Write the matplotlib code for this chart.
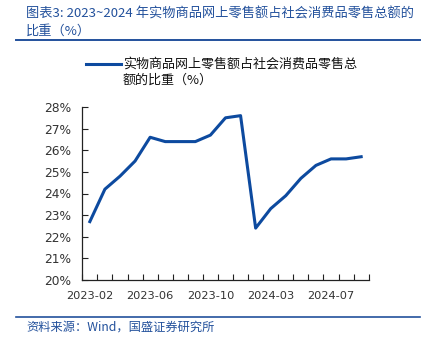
import matplotlib
matplotlib.use("Agg")
import matplotlib.pyplot as plt
from matplotlib.lines import Line2D
import numpy as np

plt.rcParams['font.family'] = ['DejaVu Sans', 'Noto Sans CJK SC']

months = ["2023-02", "2023-03", "2023-04", "2023-05", "2023-06", "2023-07",
          "2023-08", "2023-09", "2023-10", "2023-11", "2023-12",
          "2024-02", "2024-03", "2024-04", "2024-05", "2024-06", "2024-07",
          "2024-08", "2024-09"]
share = [22.7, 24.2, 24.8, 25.5, 26.6, 26.4, 26.4, 26.4, 26.7, 27.5, 27.6,
         22.4, 23.3, 23.9, 24.7, 25.3, 25.6, 25.6, 25.7]
label_months = ["2023-02", "2023-06", "2023-10", "2024-03", "2024-07"]
yticks = [20, 21, 22, 23, 24, 25, 26, 27, 28]

title_line1 = "图表3: 2023~2024 年实物商品网上零售额占社会消费品零售总额的"
title_line2 = "比重（%）"
legend_label = "实物商品网上零售额占社会消费品零售总\n额的比重（%）"
source_text = "资料来源：Wind，国盛证券研究所"

line_color = "#0D4A9F"
text_blue = "#23519C"
cjk = ['Noto Sans CJK SC', 'DejaVu Sans']

W, H = 425, 340
fig = plt.figure(figsize=(W / 100, H / 100), dpi=100)
ax = fig.add_axes([82.3 / W, 1 - 280 / H, (368.7 - 82.3) / W, (280 - 107) / H])

x = np.arange(len(months))
ax.plot(x, share, color=line_color, lw=2.2, solid_joinstyle='round', zorder=3)

ax.set_xlim(-0.5, len(months) - 0.5)
ax.set_ylim(20, 28)
ax.set_yticks(yticks)
ax.set_yticklabels([f"{v}%" for v in yticks])
ax.set_xticks(np.arange(len(months) + 1) - 0.5, minor=False)
ax.set_xticklabels([])
ax.set_xticks([months.index(m) for m in label_months], minor=True)
ax.set_xticklabels(label_months, minor=True)
ax.tick_params(axis='x', which='major', direction='in', length=4, width=0.8, color='#222222')
ax.tick_params(axis='x', which='minor', length=0, pad=8, labelsize=8.2, labelcolor='#333333')
ax.tick_params(axis='y', direction='in', length=4, width=0.8, color='#222222',
               pad=8, labelsize=8.8, labelcolor='#333333')
for s in ['top', 'right']:
    ax.spines[s].set_visible(False)
for s in ['left', 'bottom']:
    ax.spines[s].set_color('#222222')
    ax.spines[s].set_linewidth(0.9)

# title
fig.text(26 / W, 1 - 14 / H, title_line1, family=cjk, fontsize=9.5,
         color=text_blue, style='italic', va='center', ha='left')
fig.text(26 / W, 1 - 31 / H, title_line2, family=cjk, fontsize=9.5,
         color=text_blue, style='italic', va='center', ha='left')
fig.add_artist(Line2D([16 / W, 420 / W], [1 - 40 / H, 1 - 40 / H],
                      color=text_blue, lw=1.4))

# legend
fig.add_artist(Line2D([86 / W, 121 / W], [1 - 63.5 / H, 1 - 63.5 / H],
                      color=line_color, lw=2.2))
fig.text(123 / W, 1 - 72 / H, legend_label, family=cjk, fontsize=9.4,
         color='#111111', va='center', ha='left', linespacing=1.35)

# footer
fig.add_artist(Line2D([16 / W, 420 / W], [1 - 317 / H, 1 - 317 / H],
                      color=text_blue, lw=1.2))
fig.text(26 / W, 1 - 327 / H, source_text, family=cjk, fontsize=8.8,
         color=text_blue, style='italic', va='center', ha='left')

fig.savefig("out.png", dpi=100)
